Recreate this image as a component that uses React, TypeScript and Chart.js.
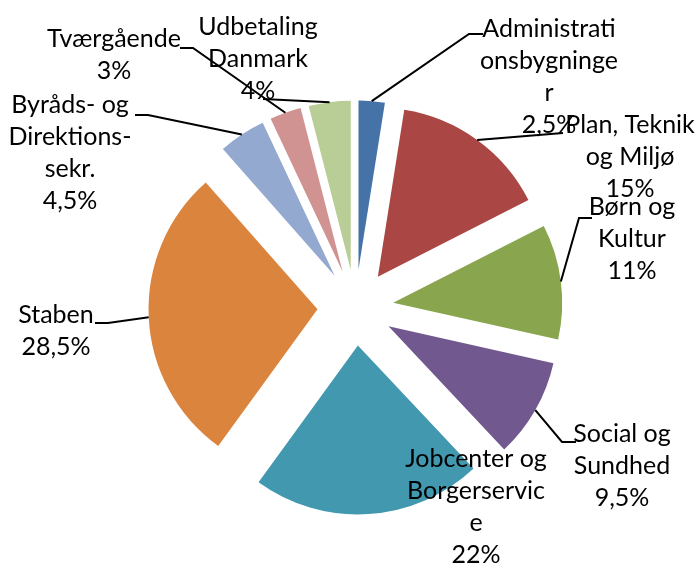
import React, { useEffect, useRef } from "react";
import { Chart, registerables } from "chart.js";

Chart.register(...registerables);

// ---- data ----
const categories = [
  "Administrationsbygninger",
  "Plan, Teknik og Miljø",
  "Børn og Kultur",
  "Social og Sundhed",
  "Jobcenter og Borgerservice",
  "Staben",
  "Byråds- og Direktionssekr.",
  "Tværgående",
  "Udbetaling Danmark",
];
const values = [2.5, 15, 11, 9.5, 22, 28.5, 4.5, 3, 4];
// category text as wrapped in the reference
const labelLines = [
  ["Administrati", "onsbygninge", "r"],
  ["Plan, Teknik", "og Miljø"],
  ["Børn og", "Kultur"],
  ["Social og", "Sundhed"],
  ["Jobcenter og", "Borgerservic", "e"],
  ["Staben"],
  ["Byråds- og", "Direktions-", "sekr."],
  ["Tværgående"],
  ["Udbetaling", "Danmark"],
];
const colors = [
  "#4572A7",
  "#AA4643",
  "#89A54E",
  "#71588F",
  "#4198AF",
  "#DB843D",
  "#93A9CF",
  "#D19392",
  "#B9CD96",
];

// ---- layout / style (not data) ----
const EXPLODE = 38;
const RADIUS = 169;
const FONT = "25px Lato";
const LINE_H = 32;
// label centre x, first baseline y, leader path from label side towards slice
const labelPos: { x: number; y: number; path: number[][] }[] = [
  { x: 549, y: 37, path: [[483, 34], [469, 34]] },
  { x: 630, y: 133, path: [[563, 133]] },
  { x: 632, y: 215, path: [[592, 218], [579, 218]] },
  { x: 622, y: 442, path: [[576, 442], [562, 442]] },
  { x: 476, y: 467, path: [] },
  { x: 56, y: 323, path: [[95, 323], [108, 323]] },
  { x: 70, y: 113, path: [[135, 115], [148, 115]] },
  { x: 114, y: 47, path: [[180, 48], [193, 48]] },
  { x: 258, y: 35, path: [[263, 99]] },
];

const fmtPct = (v: number) => String(v).replace(".", ",") + "%";

const explodePlugin = {
  id: "explode",
  afterDatasetsUpdate(chart: any) {
    const meta = chart.getDatasetMeta(0);
    meta.data.forEach((arc: any) => {
      const mid = (arc.startAngle + arc.endAngle) / 2;
      arc.x += Math.cos(mid) * EXPLODE;
      arc.y += Math.sin(mid) * EXPLODE;
    });
  },
};

const labelPlugin = {
  id: "pieLabels",
  afterDatasetsDraw(chart: any) {
    const ctx = chart.ctx;
    const meta = chart.getDatasetMeta(0);
    ctx.save();
    ctx.strokeStyle = "#000";
    ctx.lineWidth = 2;
    meta.data.forEach((arc: any, i: number) => {
      const lp = labelPos[i];
      if (!lp.path.length) return;
      const mid = (arc.startAngle + arc.endAngle) / 2;
      const ex = arc.x + Math.cos(mid) * arc.outerRadius;
      const ey = arc.y + Math.sin(mid) * arc.outerRadius;
      ctx.beginPath();
      ctx.moveTo(lp.path[0][0], lp.path[0][1]);
      for (let k = 1; k < lp.path.length; k++) ctx.lineTo(lp.path[k][0], lp.path[k][1]);
      ctx.lineTo(ex, ey);
      ctx.stroke();
    });
    ctx.fillStyle = "#000";
    ctx.font = FONT;
    ctx.textAlign = "center";
    ctx.textBaseline = "alphabetic";
    meta.data.forEach((_arc: any, i: number) => {
      const lp = labelPos[i];
      const lines = [...labelLines[i], fmtPct(values[i])];
      lines.forEach((t, k) => ctx.fillText(t, lp.x, lp.y + k * LINE_H));
    });
    ctx.restore();
  },
};

export default function App() {
  const ref = useRef<HTMLCanvasElement | null>(null);
  useEffect(() => {
    if (!ref.current) return;
    const chart = new Chart(ref.current, {
      type: "pie",
      data: {
        labels: categories,
        datasets: [
          {
            data: values,
            backgroundColor: colors,
            borderWidth: 0,
            radius: RADIUS,
          },
        ],
      },
      options: {
        animation: false,
        responsive: false,
        devicePixelRatio: 1,
        layout: { padding: { left: 13, right: 0, top: 50, bottom: 0 } },
        plugins: {
          legend: { display: false },
          tooltip: { enabled: false },
        },
      },
      plugins: [explodePlugin, labelPlugin],
    });
    return () => chart.destroy();
  }, []);
  return (
    <div style={{ position: "fixed", left: 0, top: 0, width: 698, height: 565, background: "#fff" }}>
      <canvas ref={ref} width={698} height={565} />
    </div>
  );
}
